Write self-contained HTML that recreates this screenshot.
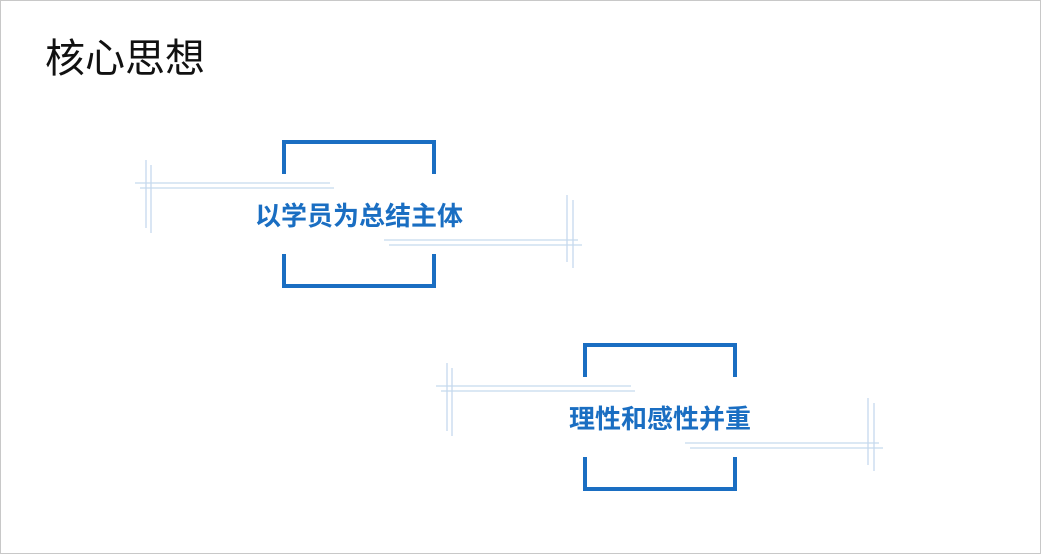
<!DOCTYPE html>
<html><head><meta charset="utf-8"><style>
html,body{margin:0;padding:0;background:#fff;}
.wrap{position:relative;width:1041px;height:554px;overflow:hidden;}
.t{position:absolute;white-space:nowrap;font-family:"Liberation Sans","Noto Sans CJK SC",sans-serif;}
</style></head><body><div class="wrap">
<svg width="1041" height="554" style="position:absolute;left:0;top:0">
<rect x="0.5" y="0.5" width="1040" height="553" fill="none" stroke="#c8c8c8"/>
<g id="g1">
<path d="M284 174 V142 H434 V174 M284 254 V286 H434 V254" fill="none" stroke="#1a6ec2" stroke-width="4"/>
<g stroke="#c5d9ee" stroke-width="1.3" fill="none">
<line x1="135" y1="183" x2="330" y2="183"/>
<line x1="140" y1="188" x2="334" y2="188"/>
<line x1="146" y1="160" x2="146" y2="228"/>
<line x1="151" y1="165" x2="151" y2="233"/>
<line x1="384" y1="240" x2="578" y2="240"/>
<line x1="389" y1="245" x2="582" y2="245"/>
<line x1="567" y1="195" x2="567" y2="262"/>
<line x1="573" y1="200" x2="573" y2="268"/>
</g>
</g>
<use href="#g1" x="301" y="203"/>
</svg>
<div class="t" style="left:45px;top:26px;font-size:40px;color:#111;">核心思想</div>
<div class="t" style="left:255px;top:196px;font-size:26px;font-weight:bold;color:#1a6ec2;">以学员为总结主体</div>
<div class="t" style="left:569px;top:399px;font-size:26px;font-weight:bold;color:#1a6ec2;">理性和感性并重</div>
</div></body></html>
